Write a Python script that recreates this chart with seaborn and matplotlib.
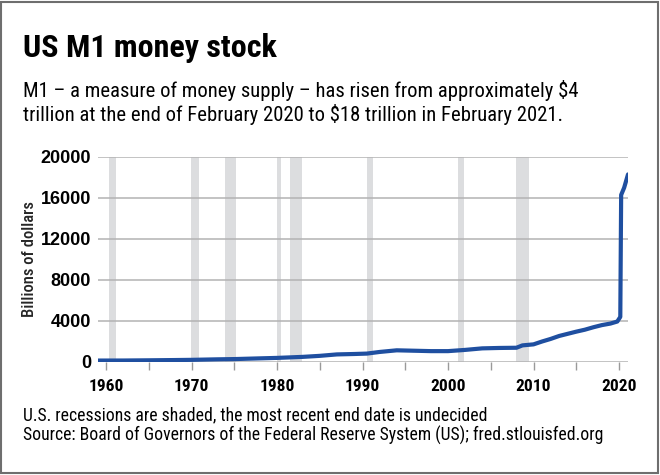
import matplotlib
matplotlib.use("Agg")
import matplotlib.pyplot as plt
import matplotlib.patches as patches
import pandas as pd
import seaborn as sns

# M1 money stock, billions of dollars
years = [1959.0, 1962.0, 1965.0, 1968.0, 1970.0, 1973.0, 1975.0, 1978.0, 1980.0,
         1983.0, 1985.0, 1987.0, 1989.0, 1990.5, 1992.0, 1994.0, 1996.0, 1998.0,
         2000.0, 2002.0, 2004.0, 2006.0, 2008.0, 2008.7, 2010.0, 2011.0, 2012.0,
         2013.0, 2014.0, 2015.0, 2016.0, 2017.0, 2018.0, 2019.0, 2019.8, 2020.15,
         2020.25, 2020.6, 2021.05]
m1 = [140, 145, 165, 190, 210, 260, 285, 355, 400,
      500, 600, 740, 780, 820, 980, 1140, 1100, 1060,
      1060, 1180, 1330, 1370, 1390, 1620, 1720, 2000, 2250,
      2540, 2750, 2960, 3150, 3390, 3600, 3750, 3950, 4400,
      16300, 17000, 18300]

# US recessions (start, end)
rec_start = [1960.3, 1969.9, 1973.9, 1980.0, 1981.5, 1990.5, 2001.2, 2007.9]
rec_end = [1961.1, 1970.9, 1975.2, 1980.5, 1982.9, 1991.2, 2001.9, 2009.5]

x_labels = [1960, 1970, 1980, 1990, 2000, 2010, 2020]
y_labels = [0, 4000, 8000, 12000, 16000, 20000]

sns.set_style("white")
plt.rcParams['font.family'] = ['Roboto Condensed', 'Liberation Sans', 'DejaVu Sans']
plt.rcParams['font.stretch'] = 'condensed'
plt.rcParams['text.color'] = 'black'
plt.rcParams['xtick.color'] = 'black'
plt.rcParams['ytick.color'] = 'black'

df = pd.DataFrame({'year': years, 'm1': m1})

fig = plt.figure(figsize=(6.6, 4.75), dpi=100)
ax = fig.add_axes([0.1485, 0.2379, 0.803, 0.4316])

for s, e in zip(rec_start, rec_end):
    ax.axvspan(s, e, color='#dcdddf', lw=0, zorder=0)

sns.lineplot(data=df, x='year', y='m1', ax=ax, color='#1f4fa0', lw=3,
             estimator=None, zorder=3, solid_capstyle='round')

ax.set_xlim(1959.05, 2021.05)
ax.set_ylim(0, 20000)
ax.set_yticks(y_labels)
ax.set_yticklabels([str(v) for v in y_labels], fontweight='bold', fontsize=13,
                   family=['Liberation Sans', 'DejaVu Sans'], stretch='normal')
ax.set_xticks(x_labels)
ax.set_xticklabels([str(v) for v in x_labels], fontweight='bold', fontsize=12.5)
ax.set_xticks(list(range(1965, 2020, 10)), minor=True)
ax.tick_params(axis='x', which='both', length=6, width=1, color='#9a9a9a',
               pad=6, bottom=True)
ax.tick_params(axis='y', length=0, pad=5)
ax.grid(axis='y', color='#b3b3b3', lw=1.1, zorder=1)
ax.grid(axis='x', visible=False)
for sp in ax.spines.values():
    sp.set_visible(False)
ax.set_xlabel('')
ax.set_ylabel('Billions of dollars', fontsize=12, fontweight='medium')
ax.yaxis.set_label_coords(-0.115, 0.5)

fig.text(0.035, 0.880, 'US M1 money stock', fontsize=23, fontweight='bold',
         va='baseline', ha='left')
fig.text(0.035, 0.796, 'M1 \u2013 a measure of money supply \u2013 has risen from approximately $4',
         fontsize=14.9, va='baseline', ha='left')
fig.text(0.035, 0.746, 'trillion at the end of February 2020 to $18 trillion in February 2021.',
         fontsize=14.9, va='baseline', ha='left')
fig.text(0.035, 0.116, 'U.S. recessions are shaded, the most recent end date is undecided',
         fontsize=12.7, va='baseline', ha='left')
fig.text(0.035, 0.072, 'Source: Board of Governors of the Federal Reserve System (US); fred.stlouisfed.org',
         fontsize=12.7, va='baseline', ha='left')

fig.patches.append(patches.Rectangle((0.0015, 0.0042), 0.9955, 0.9916, transform=fig.transFigure,
                                     fill=False, edgecolor='#6e6e6e', lw=1.5))

fig.savefig('out.png', dpi=100)
